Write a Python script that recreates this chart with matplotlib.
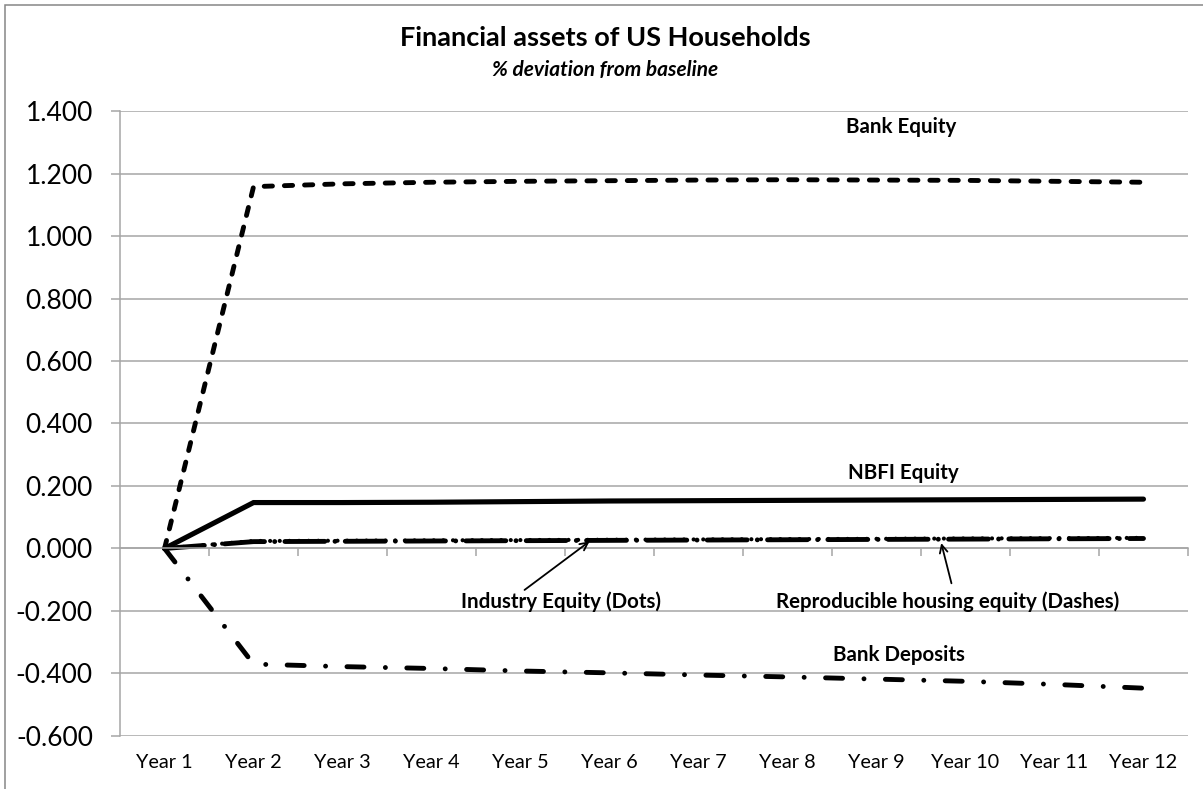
"""
Financial assets of US Households - % deviation from baseline.
"""
import matplotlib
matplotlib.use("Agg")
import matplotlib.pyplot as plt
from matplotlib.patches import Rectangle

plt.rcParams["font.family"] = ["Lato", "DejaVu Sans"]

years = ["Year 1", "Year 2", "Year 3", "Year 4", "Year 5", "Year 6",
         "Year 7", "Year 8", "Year 9", "Year 10", "Year 11", "Year 12"]

bank_equity = [0.0, 1.158, 1.167, 1.172, 1.175, 1.177, 1.179, 1.180,
               1.179, 1.178, 1.175, 1.172]
nbfi_equity = [0.0, 0.147, 0.147, 0.148, 0.150, 0.152, 0.153, 0.154,
               0.155, 0.156, 0.157, 0.158]
industry_equity = [0.0, 0.024, 0.025, 0.026, 0.027, 0.028, 0.029, 0.030,
                   0.031, 0.032, 0.033, 0.034]
housing_equity = [0.0, 0.022, 0.023, 0.024, 0.025, 0.026, 0.027, 0.028,
                  0.029, 0.030, 0.031, 0.032]
bank_deposits = [0.0, -0.370, -0.378, -0.384, -0.392, -0.398, -0.405,
                 -0.411, -0.418, -0.425, -0.435, -0.447]

yticks = [-0.6, -0.4, -0.2, 0.0, 0.2, 0.4, 0.6, 0.8, 1.0, 1.2, 1.4]

GRID = "#a6a6a6"
x = list(range(1, len(years) + 1))

fig = plt.figure(figsize=(12.03, 7.89), dpi=100)
ax = fig.add_axes([0.0998, 0.0672, 0.8877, 0.7921])

# marco del gráfico
fig.patches.append(Rectangle((0.0045, -0.1), 1.2, 1.094, transform=fig.transFigure,
                             fill=False, edgecolor="#868686", linewidth=1.1))

for v in yticks:
    ax.axhline(v, color=GRID, linewidth=1.1, zorder=0)

lw = 3.5
ax.plot(x, bank_equity, color="black", linewidth=lw, dashes=(1.7, 2.45),
        dash_capstyle="round", solid_capstyle="round")
ax.plot(x, nbfi_equity, color="black", linewidth=lw + 0.2,
        solid_capstyle="round", solid_joinstyle="miter")
ax.plot(x, housing_equity, color="black", linewidth=lw, dashes=(8.2, 2.1, 0.01, 2.1),
        dash_capstyle="round")
ax.plot(x, industry_equity, color="black", linewidth=3.0, dashes=(0.01, 2.3),
        dash_capstyle="round")
ax.plot(x, bank_deposits, color="black", linewidth=lw, dashes=(3.5, 4.4, 0.01, 4.4),
        dash_capstyle="round")

ax.set_xlim(0.5, 12.5)
ax.set_ylim(-0.6, 1.4)
ax.set_yticks(yticks)
ax.set_yticklabels([f"{v:.3f}" for v in yticks], fontsize=19)
ax.tick_params(axis="y", length=6.5, width=1.1, color=GRID, pad=13)

for s in ["top", "right"]:
    ax.spines[s].set_visible(False)
ax.spines["left"].set_color(GRID)
ax.spines["left"].set_linewidth(1.1)
ax.spines["bottom"].set_position(("data", 0))
ax.spines["bottom"].set_color(GRID)
ax.spines["bottom"].set_linewidth(1.1)
ax.set_xticks([])
ax.set_xticks([i + 0.5 for i in x], minor=True)
ax.tick_params(axis="x", which="minor", length=6, width=1.1, color=GRID)

sec = ax.secondary_xaxis("bottom")
sec.set_xticks(x)
sec.set_xticklabels(years, fontsize=14.3)
sec.tick_params(length=0, pad=13)
sec.spines["bottom"].set_visible(False)

fig.text(0.503, 0.952, "Financial assets of US Households", ha="center", va="center",
         fontsize=19.5, fontweight="bold")
fig.text(0.503, 0.911, "% deviation from baseline", ha="center", va="center",
         fontsize=15, fontweight="bold", style="italic")

lab = dict(ha="center", va="center", fontsize=14.8, fontweight="bold")
ax.text(9.28, 1.35, "Bank Equity", **lab)
ax.text(9.3, 0.24, "NBFI Equity", **lab)
ax.text(5.46, -0.17, "Industry Equity (Dots)", **lab)
ax.text(9.8, -0.17, "Reproducible housing equity (Dashes)", **lab)
ax.text(9.25, -0.34, "Bank Deposits", **lab)

arrow = dict(arrowstyle="->", color="black", linewidth=1.3, mutation_scale=14)
ax.annotate("", xy=(5.8, 0.028), xytext=(5.02, -0.138), arrowprops=arrow)
ax.annotate("", xy=(9.72, 0.026), xytext=(9.85, -0.12), arrowprops=arrow)

fig.savefig("out.png", dpi=100)
